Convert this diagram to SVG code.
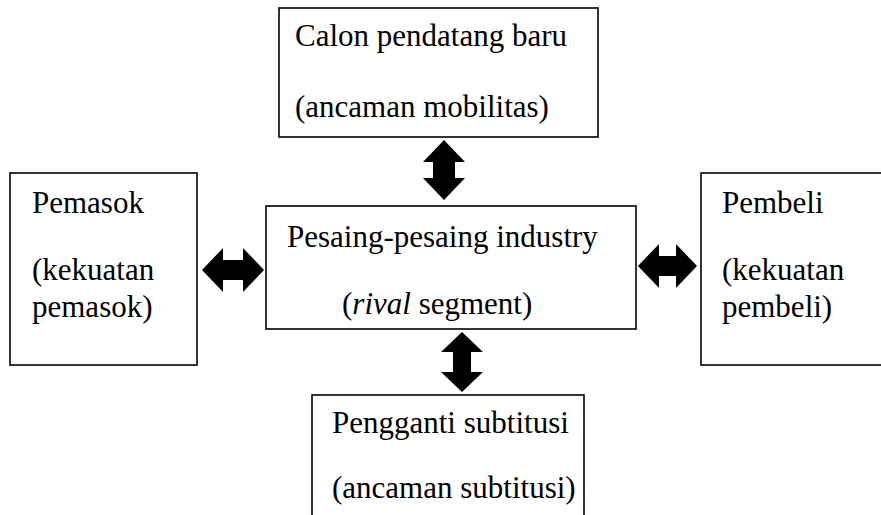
<svg xmlns="http://www.w3.org/2000/svg" width="881" height="515" viewBox="0 0 881 515">
<style>
.box{fill:#fff;stroke:#000;stroke-width:1.6}
.t{font-family:"Liberation Serif","Times New Roman",serif;font-size:31px;fill:#000}
.arr{fill:#000}
</style>
<rect width="881" height="515" fill="#fff"/>
<g id="calon">
<rect class="box" x="279" y="8" width="319" height="129"/>
<text class="t" x="295" y="46">Calon pendatang baru</text>
<text class="t" x="295" y="117">(ancaman mobilitas)</text>
</g>
<g id="pemasok">
<rect class="box" x="10" y="173" width="187" height="192"/>
<text class="t" x="32" y="213">Pemasok</text>
<text class="t" x="32" y="280">(kekuatan</text>
<text class="t" x="32" y="317">pemasok)</text>
</g>
<g id="pesaing">
<rect class="box" x="266" y="206" width="370" height="123"/>
<text class="t" x="287" y="247">Pesaing-pesaing industry</text>
<text class="t" x="342" y="314">(<tspan font-style="italic">rival</tspan> segment)</text>
</g>
<g id="pembeli">
<rect class="box" x="701" y="173" width="190" height="192"/>
<text class="t" x="722" y="213">Pembeli</text>
<text class="t" x="722" y="280">(kekuatan</text>
<text class="t" x="722" y="317">pembeli)</text>
</g>
<g id="pengganti">
<rect class="box" x="312" y="395" width="272" height="130"/>
<text class="t" x="332" y="433">Pengganti subtitusi</text>
<text class="t" x="332" y="498">(ancaman subtitusi)</text>
</g>
<g id="connectors">
<polygon class="arr" points="444,140 465,162 455,162 455,178 465,178 444,200 423,178 433,178 433,162 423,162"/>
<polygon class="arr" points="462,332 483,352 471,352 471,372 483,372 462,392 441,372 453,372 453,352 441,352"/>
<polygon class="arr" points="202,270 223,248 223,260 243,260 243,248 264,270 243,292 243,280 223,280 223,292"/>
<polygon class="arr" points="638,266 659,244 659,256 676,256 676,244 697,266 676,288 676,276 659,276 659,288"/>
</g>
</svg>
